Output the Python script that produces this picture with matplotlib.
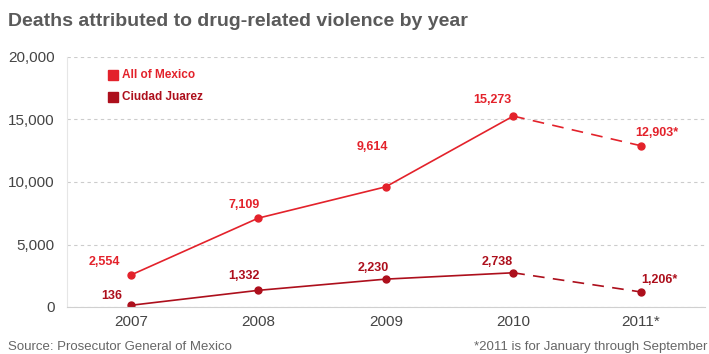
import matplotlib.pyplot as plt
import matplotlib.patches as mpatches

plt.rcParams['font.family'] = ['Liberation Sans', 'DejaVu Sans']

years = ["2007", "2008", "2009", "2010", "2011*"]
mexico = [2554, 7109, 9614, 15273, 12903]
juarez = [136, 1332, 2230, 2738, 1206]
mexico_labels = ["2,554", "7,109", "9,614", "15,273", "12,903*"]
juarez_labels = ["136", "1,332", "2,230", "2,738", "1,206*"]
yticks = [0, 5000, 10000, 15000, 20000]
ytick_labels = ["0", "5,000", "10,000", "15,000", "20,000"]

c_mex = "#e3222b"
c_jua = "#ad0f1c"

fig = plt.figure(figsize=(7.09, 3.54), dpi=100)
ax = fig.add_axes([67/709, 1-307/354, 637.5/709, 250/354])
x = list(range(len(years)))

for vals, col in [(mexico, c_mex), (juarez, c_jua)]:
    ax.plot(x[:4], vals[:4], color=col, lw=1.2, solid_capstyle='round')
    ax.plot(x[3:], vals[3:], color=col, lw=1.2, ls=(0, (7, 5)))
    ax.plot(x, vals, 'o', color=col, ms=5, mec=col)

mex_off = [(-26, 13), (-14, 13), (-13, 40), (-21, 16), (16, 13)]
jua_off = [(-19, 9), (-14, 14), (-13, 11), (-16, 11), (19, 12)]
for i in x:
    ax.annotate(mexico_labels[i], (i, mexico[i]), xytext=mex_off[i], textcoords='offset pixels',
                ha='center', va='center', color=c_mex, fontsize=9, fontweight='bold')
    ax.annotate(juarez_labels[i], (i, juarez[i]), xytext=jua_off[i], textcoords='offset pixels',
                ha='center', va='center', color=c_jua, fontsize=9, fontweight='bold')

ax.set_xlim(-0.5, 4.5)
ax.set_ylim(0, 20000)
ax.set_yticks(yticks)
ax.set_yticklabels(ytick_labels)
ax.set_xticks(x)
ax.set_xticklabels(years)
ax.tick_params(length=0, labelsize=11, labelcolor="#444444")
ax.tick_params(axis='y', pad=9)
ax.tick_params(axis='x', pad=6)
ax.grid(axis='y', color="#cccccc", ls=(0, (3, 3)), lw=0.8)
ax.set_axisbelow(True)
for s in ["top", "right"]:
    ax.spines[s].set_visible(False)
ax.spines["left"].set_color("#e6e6e6")
ax.spines["bottom"].set_color("#d0d0d0")

# legend
for yy, lab, col in [(75, "All of Mexico", c_mex), (97, "Ciudad Juarez", c_jua)]:
    fig.patches.append(mpatches.Rectangle((108/709, 1-(yy+5)/354), 10/709, 10/354,
                                          transform=fig.transFigure, color=col))
    fig.text(122/709, 1-yy/354, lab, color=col, fontsize=8.5, fontweight='bold', va='center', ha='left')

fig.text(8/709, 1-22/354, "Deaths attributed to drug-related violence by year", fontsize=14,
         fontweight='bold', color="#5a5a5a", va='center', ha='left')
fig.text(8/709, 1-347/354, "Source: Prosecutor General of Mexico", fontsize=9.5, color="#666666",
         va='center', ha='left')
fig.text(707/709, 1-347/354, "*2011 is for January through September", fontsize=9.5, color="#666666",
         va='center', ha='right')

fig.savefig("out.png", dpi=100)
